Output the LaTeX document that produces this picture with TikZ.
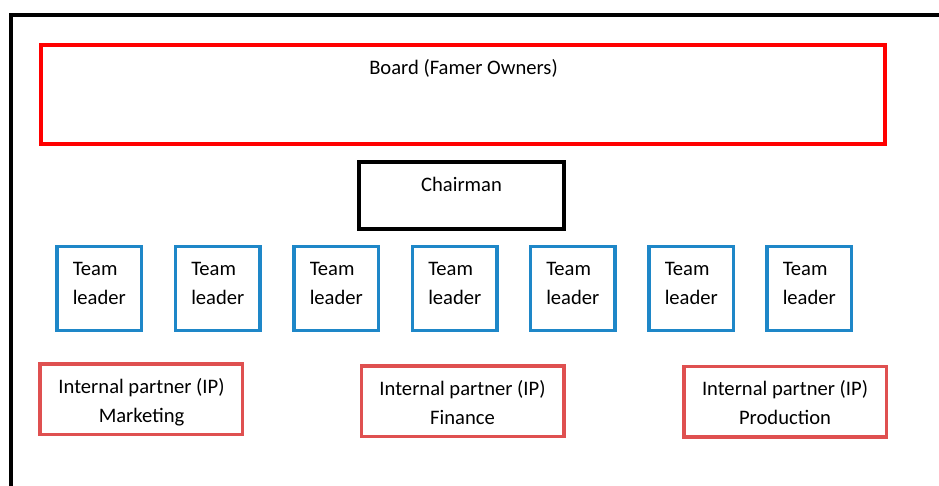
\documentclass[tikz,border=0pt]{standalone}
\usepackage{fontspec}
\setmainfont{Carlito}
\definecolor{boardred}{HTML}{FF0000}
\definecolor{tlblue}{HTML}{1E87C8}
\definecolor{ipred}{HTML}{DF5050}
\tikzset{
  box/.style={rectangle, inner sep=0pt, outer sep=0pt},
  boardbox/.style={box, draw=boardred, line width=4pt, minimum width=844pt, minimum height=99pt},
  chairbox/.style={box, draw=black, line width=4pt, minimum width=205pt, minimum height=67pt},
  tlbox/.style={box, draw=tlblue, line width=3.5pt, minimum width=84.5pt, minimum height=83.5pt},
  ipbox/.style={box, draw=ipred, line width=3.5pt, minimum width=202.5pt, minimum height=70.5pt},
  txt/.style={inner sep=0pt, outer sep=0pt, font=\fontsize{20.6}{28.7}\selectfont, text=black},
  frame/.style={draw=black, line width=4pt}
}
\begin{document}
\begin{tikzpicture}[x=1pt, y=-1pt]
\useasboundingbox (0,0) rectangle (939,486);
% outer frame
\draw[frame] (10.5,488) -- (10.5,15) -- (941,15);
% board
\node[boardbox] (board) at (463,94.5) {};
\node[txt, anchor=base] (boardt) at (463.5,75) {Board (Famer Owners)};
% chairman
\node[chairbox] (chair) at (461.5,195.5) {};
\node[txt, anchor=base] (chairt) at (461.5,191.5) {Chairman};
% team leaders
\foreach \i/\cx in {1/99, 2/217.5, 3/336, 4/454.5, 5/572.5, 6/691, 7/809} {
  \node[tlbox] (tl\i) at (\cx,288.5) {};
  \node[txt, anchor=base west, align=left] (tlt\i) at ([xshift=16pt]tl\i.west |- 0,304.5) {Team\\leader};
}
% internal partners
\node[ipbox] (ipm) at (141,399) {};
\node[txt, anchor=base, align=center] (ipmt) at (141.5,422.5) {Internal partner (IP)\\Marketing};
\node[ipbox] (ipf) at (462.5,401) {};
\node[txt, anchor=base, align=center] (ipft) at (462.5,424) {Internal partner (IP)\\Finance};
\node[ipbox] (ipp) at (785,401.5) {};
\node[txt, anchor=base, align=center] (ippt) at (785,424) {Internal partner (IP)\\Production};
\end{tikzpicture}
\end{document}
